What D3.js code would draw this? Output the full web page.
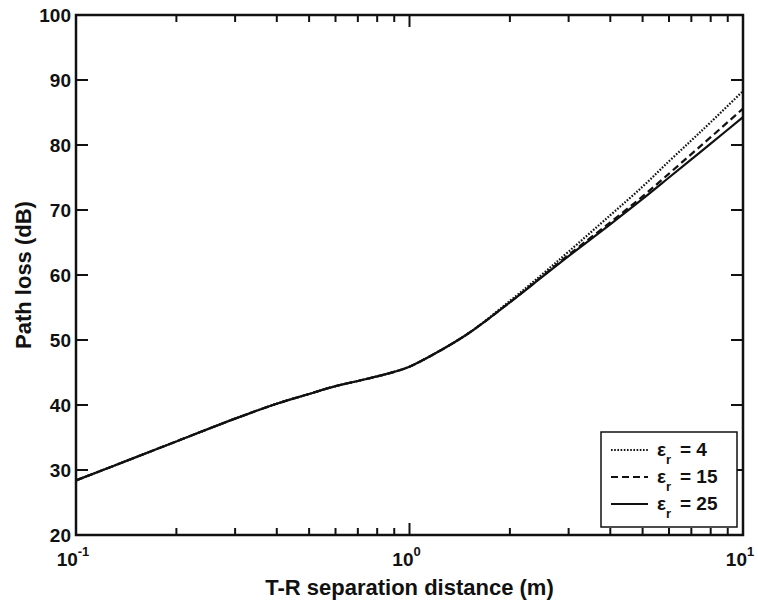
<!DOCTYPE html>
<html>
<head>
<meta charset="utf-8">
<script src="https://cdn.jsdelivr.net/npm/d3@7"></script>
<style>
  body { margin: 0; background: #fff; }
  text { font-family: "Liberation Sans", Arial, sans-serif; font-weight: bold; fill: #111; }
</style>
</head>
<body>
<div id="chart"></div>
<script>
// Path loss curves
const distance = [0.1, 0.15, 0.2, 0.3, 0.4, 0.5, 0.6, 0.7, 0.8, 0.9, 1.0, 1.2, 1.5, 2, 2.5, 3, 4, 5, 6, 7, 8, 10];
const lossEps4  = [28.4, 31.9, 34.4, 37.9, 40.2, 41.7, 42.9, 43.7, 44.4, 45.1, 45.9, 48.0, 51.0, 56.0, 60.1, 63.6, 69.2, 73.6, 77.5, 80.7, 83.5, 88.3];
const lossEps15 = [28.4, 31.9, 34.4, 37.9, 40.2, 41.7, 42.9, 43.7, 44.4, 45.1, 45.9, 48.0, 51.0, 55.8, 59.8, 63.1, 68.1, 72.1, 75.6, 78.6, 81.2, 85.6];
const lossEps25 = [28.4, 31.9, 34.4, 37.9, 40.2, 41.7, 42.9, 43.7, 44.4, 45.1, 45.9, 48.0, 51.0, 55.8, 59.7, 62.9, 67.8, 71.7, 75.0, 77.8, 80.2, 84.3];

const seriesLabels = ["4", "15", "25"];
const yTicks = [20, 30, 40, 50, 60, 70, 80, 90, 100];
const xMajor = [0.1, 1, 10];
const xMajorExp = ["-1", "0", "1"];
const xMinor = [0.2, 0.3, 0.4, 0.5, 0.6, 0.7, 0.8, 0.9, 2, 3, 4, 5, 6, 7, 8, 9];

const width = 758, height = 604;
const plotLeft = 76, plotRight = 743, plotTop = 15, plotBottom = 535;

const svg = d3.select("#chart").append("svg")
    .attr("width", width)
    .attr("height", height);

const x = d3.scaleLog().domain([0.1, 10]).range([plotLeft, plotRight]);
const y = d3.scaleLinear().domain([20, 100]).range([plotBottom, plotTop]);

// curves
const styles = [
    { data: lossEps4,  dash: "1.6,1.6" },
    { data: lossEps15, dash: "7,4" },
    { data: lossEps25, dash: null }
];

const line = d3.line()
    .x(d => x(d[0]))
    .y(d => y(d[1]))
    .curve(d3.curveCatmullRom.alpha(0.5));

styles.forEach(s => {
    svg.append("path")
       .datum(distance.map((d, i) => [d, s.data[i]]))
       .attr("d", line)
       .attr("fill", "none")
       .attr("stroke", "#111")
       .attr("stroke-width", 2.2)
       .attr("stroke-dasharray", s.dash);
});

// box axes with inward ticks
const axisG = svg.append("g").attr("stroke", "#111");

const majorLen = 12, minorLen = 7;

yTicks.forEach(v => {
    axisG.append("line").attr("x1", plotLeft).attr("x2", plotLeft + majorLen)
         .attr("y1", y(v)).attr("y2", y(v)).attr("stroke-width", 2);
    axisG.append("line").attr("x1", plotRight).attr("x2", plotRight - majorLen)
         .attr("y1", y(v)).attr("y2", y(v)).attr("stroke-width", 2);
});

xMajor.forEach(v => {
    axisG.append("line").attr("x1", x(v)).attr("x2", x(v))
         .attr("y1", plotBottom).attr("y2", plotBottom - majorLen).attr("stroke-width", 2);
    axisG.append("line").attr("x1", x(v)).attr("x2", x(v))
         .attr("y1", plotTop).attr("y2", plotTop + majorLen).attr("stroke-width", 2);
});

xMinor.forEach(v => {
    axisG.append("line").attr("x1", x(v)).attr("x2", x(v))
         .attr("y1", plotBottom).attr("y2", plotBottom - minorLen).attr("stroke-width", 2);
    axisG.append("line").attr("x1", x(v)).attr("x2", x(v))
         .attr("y1", plotTop).attr("y2", plotTop + minorLen).attr("stroke-width", 2);
});

// legend
const lg = svg.append("g");
lg.append("rect")
  .attr("x", 601).attr("y", 432)
  .attr("width", 136).attr("height", 95)
  .attr("fill", "#fff")
  .attr("stroke", "#111")
  .attr("stroke-width", 1.5);

seriesLabels.forEach((lab, i) => {
    const base = 456 + i * 27;
    lg.append("line")
      .attr("x1", 611).attr("x2", 648)
      .attr("y1", base - 6).attr("y2", base - 6)
      .attr("stroke", "#111")
      .attr("stroke-width", 2)
      .attr("stroke-dasharray", styles[i].dash);
    const t = lg.append("text")
      .attr("x", 657).attr("y", base)
      .style("font-size", "19px");
    t.append("tspan").text("ε");
    t.append("tspan").attr("dx", 0).attr("dy", 8).style("font-size", "13px").text("r");
    t.append("tspan").attr("x", 680).attr("y", base).text("= " + lab);
});

// frame
svg.append("rect")
   .attr("x", plotLeft).attr("y", plotTop)
   .attr("width", plotRight - plotLeft).attr("height", plotBottom - plotTop)
   .attr("fill", "none")
   .attr("stroke", "#111")
   .attr("stroke-width", 2.5);

// tick labels
svg.selectAll(".ylab")
   .data(yTicks)
   .join("text")
   .attr("x", plotLeft - 5)
   .attr("y", d => y(d) + 7)
   .attr("text-anchor", "end")
   .style("font-size", "19px")
   .text(d => d);

xMajor.forEach((v, i) => {
    const t = svg.append("text")
       .attr("x", x(v) - 3)
       .attr("y", 566)
       .attr("text-anchor", "middle")
       .style("font-size", "19px");
    t.append("tspan").text("10");
    t.append("tspan").attr("dy", -10).style("font-size", "13px").text(xMajorExp[i]);
});

// axis titles
svg.append("text")
   .attr("x", (plotLeft + plotRight) / 2)
   .attr("y", 595)
   .attr("text-anchor", "middle")
   .style("font-size", "22px")
   .text("T-R separation distance (m)");

svg.append("text")
   .attr("transform", `translate(31, ${(plotTop + plotBottom) / 2}) rotate(-90)`)
   .attr("text-anchor", "middle")
   .style("font-size", "22px")
   .text("Path loss (dB)");
</script>
</body>
</html>
